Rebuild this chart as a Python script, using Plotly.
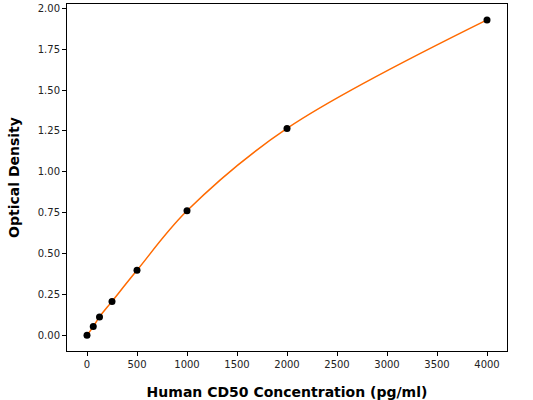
import plotly.graph_objects as go

# standard curve points
conc = [0, 62.5, 125, 250, 500, 1000, 2000, 4000]
od = [0.000, 0.053, 0.112, 0.207, 0.397, 0.761, 1.265, 1.929]

xticks = [0, 500, 1000, 1500, 2000, 2500, 3000, 3500, 4000]
yticks = [0.0, 0.25, 0.5, 0.75, 1.0, 1.25, 1.5, 1.75, 2.0]

fig = go.Figure()
fig.add_trace(go.Scatter(x=conc, y=od, mode="lines",
                         line=dict(color="#ff6a00", width=1.5, shape="spline", smoothing=1.0),
                         hoverinfo="skip"))
fig.add_trace(go.Scatter(x=conc, y=od, mode="markers",
                         marker=dict(color="black", size=7)))

axis_common = dict(showline=True, linecolor="black", linewidth=1, mirror=True,
                   ticks="outside", ticklen=4, tickcolor="black", showgrid=False,
                   zeroline=False, automargin=False,
                   tickfont=dict(family="DejaVu Sans", size=10, color="#222"))

fig.update_layout(
    width=533, height=400, showlegend=False,
    plot_bgcolor="white", paper_bgcolor="white",
    margin=dict(l=67, r=26, t=4, b=49, autoexpand=False),
    xaxis=dict(range=[-200, 4200], tickvals=xticks,
               ticktext=[str(v) for v in xticks],
               title=dict(text="<b>Human CD50 Concentration (pg/ml)</b>", standoff=22,
                          font=dict(family="DejaVu Sans", size=14, color="black")),
               **axis_common),
    yaxis=dict(range=[-0.0965, 2.0265], tickvals=yticks,
               ticktext=["%.2f" % v for v in yticks],
               title=dict(text="<b>Optical Density</b>", standoff=14,
                          font=dict(family="DejaVu Sans", size=14, color="black")),
               **axis_common),
)

# page body has a default 8px margin; drop it so the figure sits at 0,0
fig.write_html("out.html", config={"displayModeBar": False},
               post_script="document.body.style.margin='0';")
